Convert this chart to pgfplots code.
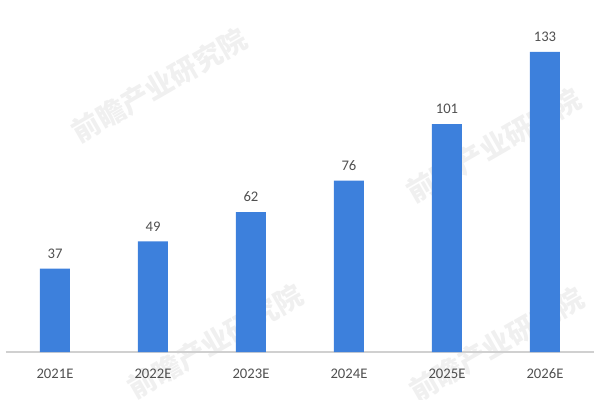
\documentclass[border=0pt]{standalone}
\usepackage{pgfplots}
\pgfplotsset{compat=1.18}
\usepackage{fontspec}
\setmainfont{Carlito}
\newfontfamily\cjk{Noto Sans CJK SC}
\definecolor{barblue}{HTML}{3D80DC}
\definecolor{txtgray}{HTML}{505050}
\definecolor{axgray}{HTML}{D0D0D0}
\tikzset{wm/.style={rotate=30,text=black!6,inner sep=0pt,font=\cjk\bfseries\fontsize{21}{21}\selectfont}}
\begin{document}
\begin{tikzpicture}
\path[use as bounding box] (-4.5pt,-36pt) rectangle (445.5pt,264pt);
\node[wm] at (115pt,200pt) {前瞻产业研究院};
\node[wm] at (366pt,155pt) {前瞻产业研究院};
\node[wm] at (157pt,8pt) {前瞻产业研究院};
\node[wm] at (368pt,6pt) {前瞻产业研究院};
\begin{axis}[
  scale only axis,
  width=441pt, height=264pt,
  xmin=-0.5, xmax=5.5, ymin=0, ymax=156,
  axis x line*=bottom,
  axis y line=none,
  x axis line style={draw=axgray, line width=0.8pt},
  xtick=data,
  xticklabels={2021E,2022E,2023E,2024E,2025E,2026E},
  xtick style={draw=none},
  xticklabel style={text=txtgray, font=\fontsize{11}{12}\selectfont, yshift=-5pt},
  ybar, bar width=22.5pt,
  nodes near coords,
  nodes near coords style={text=txtgray, font=\fontsize{11}{12}\selectfont, yshift=4pt},
  /pgf/number format/assume math mode=true,
  clip=false,
]
\addplot[fill=barblue, draw=none] coordinates {(0,37) (1,49) (2,62) (3,76) (4,101) (5,133)};
\end{axis}
\end{tikzpicture}
\end{document}
